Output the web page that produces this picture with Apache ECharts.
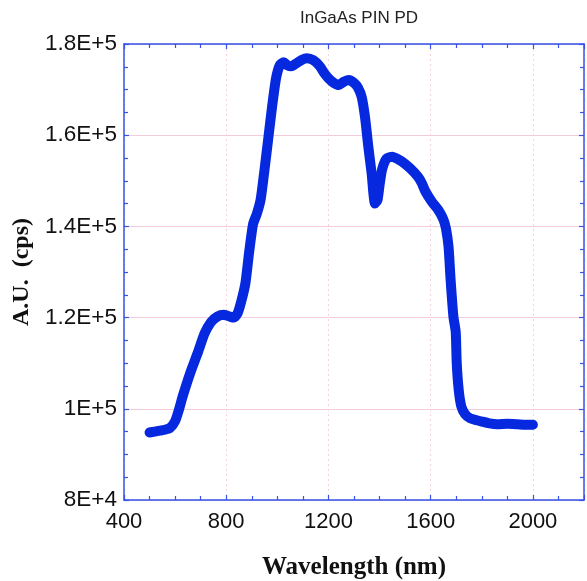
<!DOCTYPE html>
<html>
<head>
<meta charset="utf-8">
<script src="https://cdn.jsdelivr.net/npm/echarts@6/dist/echarts.min.js"></script>
<style>html,body{margin:0;padding:0;background:#fff}#c{width:587px;height:581px}</style>
</head>
<body>
<div id="c"></div>
<script>
const wavelength = [500,520,540,560,580,600,615,630,660,690,715,740,765,790,810,830,845,860,875,890,905,920,935,950,965,980,995,1010,1025,1040,1055,1075,1095,1115,1140,1165,1185,1200,1220,1240,1260,1280,1300,1315,1330,1343,1356,1369,1382,1392,1400,1410,1428,1450,1470,1490,1520,1550,1565,1580,1605,1630,1650,1660,1670,1678,1689,1698,1702,1710,1720,1735,1755,1780,1800,1830,1860,1900,1940,1970,2000];
const counts = [94800,95000,95200,95400,95800,97300,99800,102800,108000,112500,116500,119000,120200,120600,120300,120000,121000,123800,127500,134500,140500,142800,146000,152500,159500,166500,172500,175400,176000,175300,175100,175800,176500,176900,176500,175200,173500,172500,171500,171000,171700,172100,171500,170500,168400,164000,157500,151600,145000,145800,149000,152500,154900,155300,154800,154100,152700,150900,149500,147600,145400,143600,141500,139500,135500,128300,120200,116900,110000,104000,100500,98800,97900,97500,97200,96800,96600,96700,96600,96500,96500];
const xTickLabels = ['400','800','1200','1600','2000',''];
const xTickValues = [400,800,1200,1600,2000,2200];
const yTickValues = [80000,100000,120000,140000,160000,180000];
const yTickLabels = ['8E+4','1E+5','1.2E+5','1.4E+5','1.6E+5','1.8E+5'];

const data = wavelength.map((w,i)=>[w,counts[i]]);
const frame = '#3553e6';
const axisCommon = {
  axisLine:{show:true,lineStyle:{color:frame,width:1.5}},
  axisTick:{show:true,inside:true,length:5,lineStyle:{color:frame,width:1.2}},
  minorTick:{show:true,splitNumber:4,length:4,lineStyle:{color:frame,width:1.2}}
};
const chart = echarts.init(document.getElementById('c'));
chart.setOption({
  animation:false,
  backgroundColor:'#fff',
  title:{text:'InGaAs PIN PD',left:354,textAlign:'center',top:5,
    textStyle:{fontFamily:'Liberation Sans, Arial',fontSize:17,fontWeight:'normal',color:'#222'}},
  grid:{left:124,right:3,top:44,bottom:81,containLabel:false,outerBoundsMode:'none'},
  xAxis:[
    Object.assign({type:'value',min:400,max:2200,interval:400,position:'bottom',
      name:'Wavelength (nm)',nameLocation:'middle',nameGap:55,
      nameTextStyle:{fontFamily:'Liberation Serif, Times New Roman',fontWeight:'bold',fontSize:25,color:'#111'},
      axisLabel:{margin:11,fontFamily:'Liberation Sans, Arial',fontSize:22,color:'#111',
        formatter:v=>{const i=xTickValues.indexOf(v);return i>=0?xTickLabels[i]:'';}},
      splitLine:{show:true,lineStyle:{color:'#f3d3e0',type:[2,3],width:1}}},axisCommon),
    Object.assign({type:'value',min:400,max:2200,interval:400,position:'top',
      axisLabel:{show:false},splitLine:{show:false}},axisCommon)
  ],
  yAxis:[
    Object.assign({type:'value',min:80000,max:180000,interval:20000,position:'left',
      name:'A.U.  (cps)',nameLocation:'middle',nameGap:82,nameRotate:90,
      nameTextStyle:{fontFamily:'Liberation Serif, Times New Roman',fontWeight:'bold',fontSize:24,color:'#111'},
      axisLabel:{margin:7,fontFamily:'Liberation Sans, Arial',fontSize:22.5,color:'#111',
        formatter:v=>{const i=yTickValues.indexOf(v);return i>=0?yTickLabels[i]:'';}},
      splitLine:{show:true,lineStyle:{color:'#f5cbdb',width:1}}},axisCommon),
    Object.assign({type:'value',min:80000,max:180000,interval:20000,position:'right',
      axisLabel:{show:false},splitLine:{show:false}},axisCommon)
  ],
  series:[{
    type:'line',data:data,xAxisIndex:0,yAxisIndex:0,
    showSymbol:false,smooth:0.2,
    lineStyle:{color:'#0628de',width:10,cap:'round',join:'round'}
  }]
});
</script>
</body>
</html>
